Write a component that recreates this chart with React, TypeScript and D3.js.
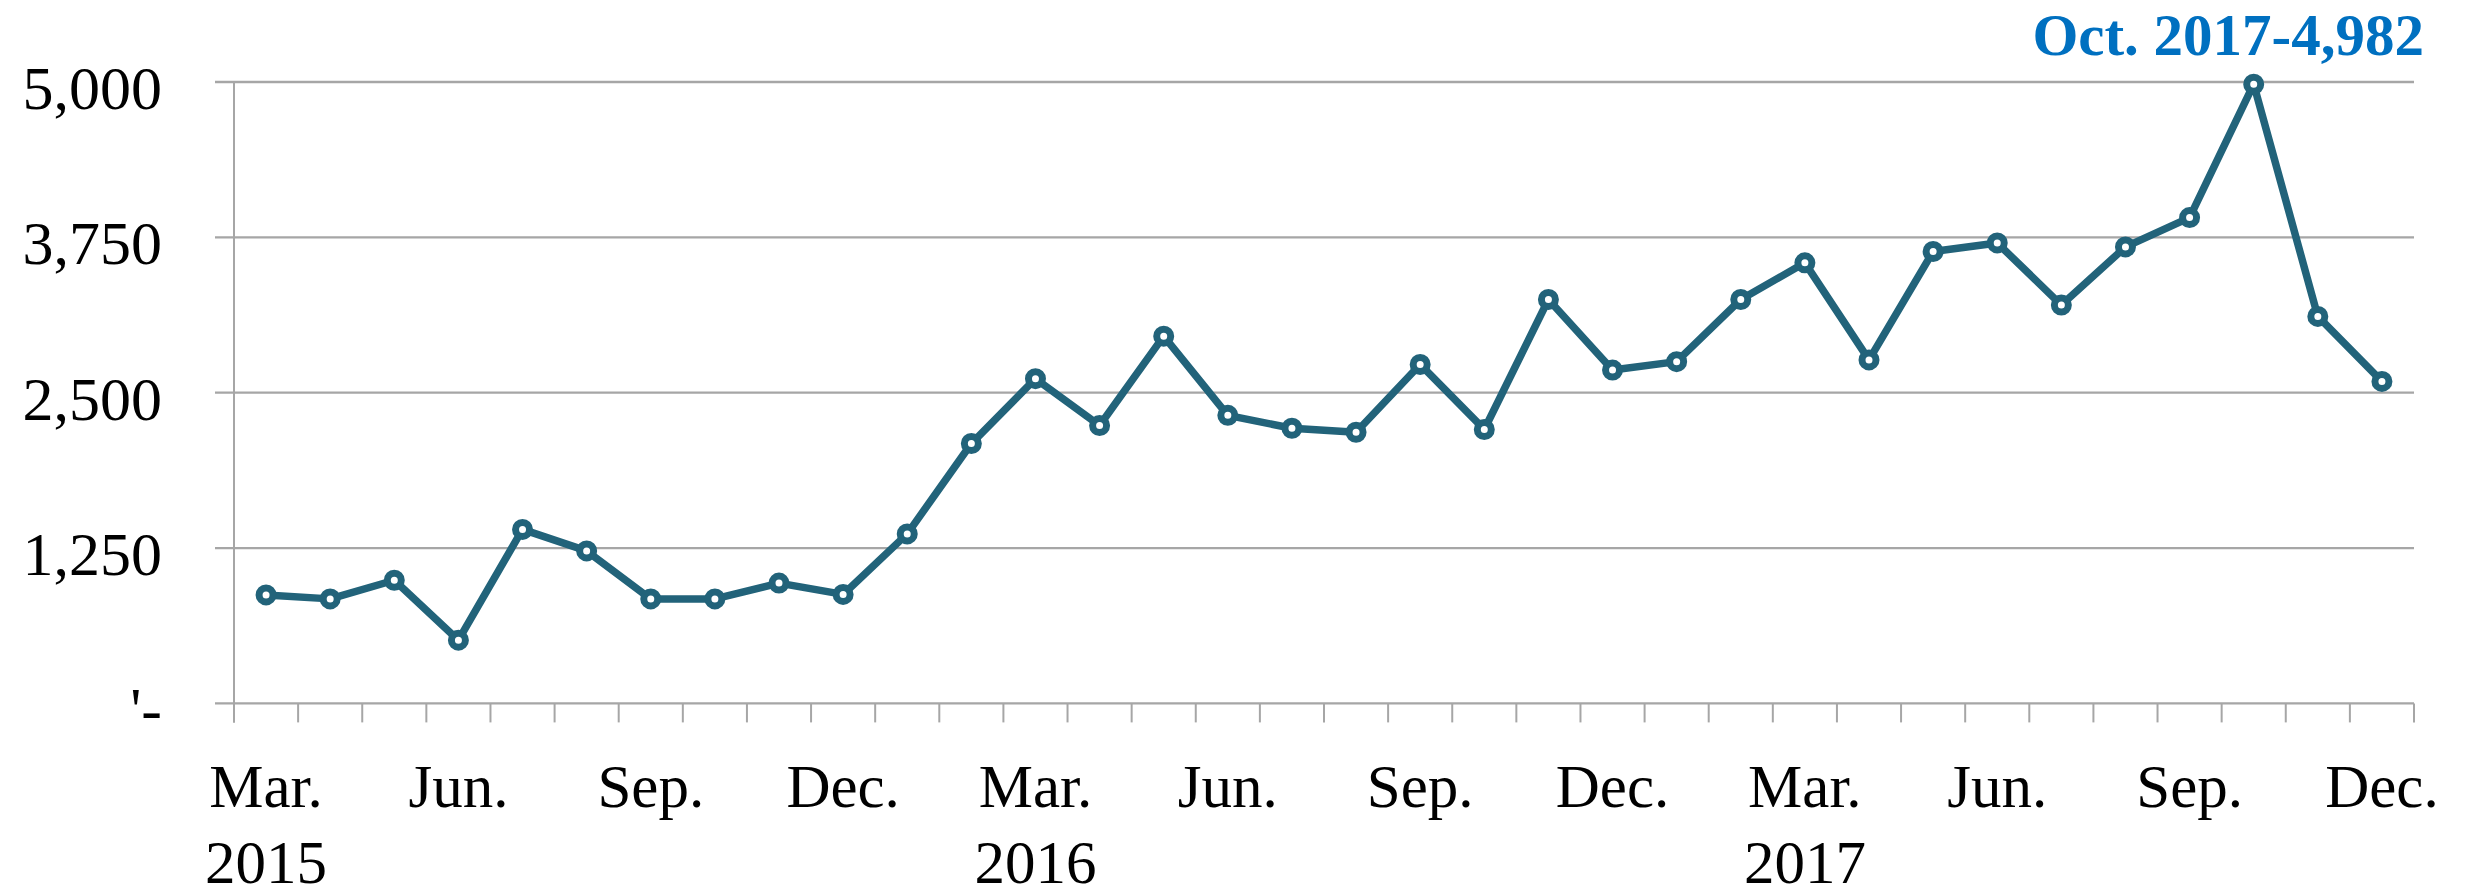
import React from "react";
import * as d3 from "d3";

const months: string[] = [
  "2015-03","2015-04","2015-05","2015-06","2015-07","2015-08","2015-09","2015-10","2015-11","2015-12",
  "2016-01","2016-02","2016-03","2016-04","2016-05","2016-06","2016-07","2016-08","2016-09","2016-10","2016-11","2016-12",
  "2017-01","2017-02","2017-03","2017-04","2017-05","2017-06","2017-07","2017-08","2017-09","2017-10","2017-11","2017-12",
];
const values: number[] = [
  873, 841, 991, 509, 1400, 1227, 841, 841, 968, 877,
  1364, 2091, 2613, 2236, 2955, 2318, 2214, 2182, 2727, 2204, 3250, 2682,
  2750, 3250, 3545, 2764, 3636, 3705, 3205, 3673, 3909, 4982, 3114, 2591,
];
const monthLabels: { [k: string]: string } = {
  "03": "Mar.", "06": "Jun.", "09": "Sep.", "12": "Dec.",
};
const yearLabels: { [k: string]: string } = {
  "2015-03": "2015", "2016-03": "2016", "2017-03": "2017",
};
const yTicks: number[] = [0, 1250, 2500, 3750, 5000];
const yTickLabels: string[] = ["'-", "1,250", "2,500", "3,750", "5,000"];
const annotationText = "Oct. 2017-4,982";

const W = 2467;
const H = 886;
const left = 234;
const right = 2414;
const top = 82;
const bottom = 703.4;
const FONT = "'Liberation Serif', 'Times New Roman', serif";
const GRID = "#a6a6a6";
const LINE = "#22637a";

export default function App() {
  const x = d3.scaleBand<string>().domain(months).range([left, right]).padding(0);
  const y = d3.scaleLinear().domain([0, 5000]).range([bottom, top]);
  const cx = (m: string) => (x(m) as number) + x.bandwidth() / 2;
  const line = d3
    .line<number>()
    .x((_, i) => cx(months[i]))
    .y((d) => y(d));
  const boundaries = months.map((m) => x(m) as number).concat([right]);

  return (
    <div style={{ position: "absolute", left: 0, top: 0 }}>
      <svg width={W} height={H} style={{ display: "block", background: "#fff" }}>
        {yTicks.map((t) => (
          <line key={"g" + t} x1={left - 19} x2={right} y1={y(t)} y2={y(t)} stroke={GRID} strokeWidth={2.3} />
        ))}
        <line x1={left} x2={left} y1={top} y2={bottom + 19} stroke={GRID} strokeWidth={2} />
        {boundaries.map((b, i) => (
          <line key={"t" + i} x1={b} x2={b} y1={bottom} y2={bottom + 19} stroke={GRID} strokeWidth={2} />
        ))}
        {yTicks.map((t, i) => (
          <text key={"yl" + t} x={162} y={y(t) + 27} textAnchor="end" fontFamily={FONT} fontSize={62} fill="#000">
            {yTickLabels[i]}
          </text>
        ))}
        {months.map((m) => {
          const mm = m.slice(5);
          const lab = monthLabels[mm];
          return (
            <g key={"xl" + m}>
              {lab && (
                <text x={cx(m)} y={807} textAnchor="middle" fontFamily={FONT} fontSize={61} fill="#000">
                  {lab}
                </text>
              )}
              {yearLabels[m] && (
                <text x={cx(m)} y={883} textAnchor="middle" fontFamily={FONT} fontSize={61} fill="#000">
                  {yearLabels[m]}
                </text>
              )}
            </g>
          );
        })}
        <path d={line(values) as string} fill="none" stroke={LINE} strokeWidth={7.5} strokeLinejoin="round" />
        {values.map((v, i) => (
          <circle key={"c" + i} cx={cx(months[i])} cy={y(v)} r={7} fill="#fff" stroke={LINE} strokeWidth={7} />
        ))}
        <text x={2424} y={55} textAnchor="end" fontFamily={FONT} fontWeight="bold" fontSize={59} fill="#0070c0">
          {annotationText}
        </text>
      </svg>
    </div>
  );
}
